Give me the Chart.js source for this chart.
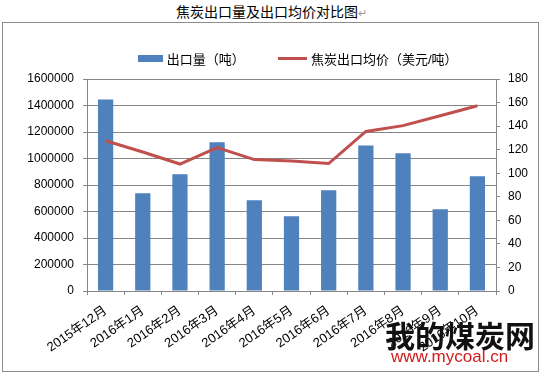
<!DOCTYPE html>
<html>
<head>
<meta charset="utf-8">
<script src="https://cdn.jsdelivr.net/npm/chart.js@4"></script>
<style>
  body { margin: 0; width: 543px; height: 374px; position: relative; background: #fff; overflow: hidden;
         font-family: "Liberation Sans", "Noto Sans CJK SC", sans-serif; }
  #box { position: absolute; left: 2px; top: 22px; width: 535px; height: 348px; border: 1px solid #8c8c8c; }
  #title { position: absolute; left: 0; width: 543px; top: 1px; text-align: center; font-size: 14px; color: #000; }
  #title span { color: #999; font-size: 11px; }
  #legend { position: absolute; top: 49px; left: 138px; font-size: 13px; color: #000; white-space: nowrap; }
  #legend .sw { display: inline-block; vertical-align: middle; }
  #wrap { position: absolute; left: 0; top: 0; width: 543px; height: 374px; }
  #mark1 { position: absolute; left: 385px; top: 312px; font-size: 30px; color: #111; font-family: "Noto Sans CJK SC", sans-serif; font-weight: bold; }
  #mark2 { position: absolute; left: 391px; top: 347px; font-size: 17px; color: #d21a1a; font-family: "Liberation Sans", sans-serif; }
</style>
</head>
<body>
<div id="box"></div>
<div id="title">焦炭出口量及出口均价对比图<span>↵</span></div>
<div id="wrap"><canvas id="myChart"></canvas></div>
<div id="legend">
  <span class="sw" style="width:25px;height:7px;background:#4F81BD;"></span>
  <span style="vertical-align:middle;">出口量（吨）</span>
  <span class="sw" style="width:29px;height:3px;background:#C0504D;margin-left:30px;"></span>
  <span style="vertical-align:middle;">焦炭出口均价（美元/吨）</span>
</div>
<div id="mark1">我的煤炭网</div>
<div id="mark2">www.mycoal.cn</div>
<script>
const months = ["2015年12月", "2016年1月", "2016年2月", "2016年3月", "2016年4月", "2016年5月",
                "2016年6月", "2016年7月", "2016年8月", "2016年9月", "2016年10月"];
const exportVolume = [1446000, 738000, 881000, 1122000, 685000, 565000, 760000, 1099000, 1039000, 617000, 866000];
const avgPrice = [127.6, 118, 107.8, 121.7, 111.6, 110.4, 108.2, 135.5, 140.4, 148.8, 157.3];
const volumeTicks = { min: 0, max: 1600000, step: 200000 };
const priceTicks = { min: 0, max: 180, step: 20 };

const gridColor = "#868686";
const fontFamily = "'Liberation Sans', 'Noto Sans CJK SC', sans-serif";

Chart.defaults.font.family = fontFamily;
Chart.defaults.font.size = 12;
Chart.defaults.color = "#000";

let ctx = document.getElementById("myChart").getContext('2d');

let chart = new Chart(ctx, {
  data: {
    labels: months,
    datasets: [{
      type: "line",
      label: "焦炭出口均价（美元/吨）",
      data: avgPrice,
      yAxisID: "y1",
      borderColor: "#C0504D",
      borderWidth: 3,
      pointRadius: 0,
      tension: 0,
      order: 0
    }, {
      type: "bar",
      label: "出口量（吨）",
      data: exportVolume,
      yAxisID: "y",
      backgroundColor: "#4F81BD",
      categoryPercentage: 1,
      barPercentage: 0.41,
      order: 1
    }]
  },
  options: {
    responsive: true,
    maintainAspectRatio: false,
    animation: false,
    layout: { padding: { left: 3, right: 0, top: 79, bottom: 3 } },
    plugins: {
      legend: { display: false },
      title: { display: false },
      tooltip: { enabled: false }
    },
    scales: {
      x: {
        offset: true,
        grid: { offset: true, drawOnChartArea: false, drawTicks: true, tickLength: 4, color: gridColor },
        border: { color: gridColor },
        ticks: { minRotation: 35, maxRotation: 35, autoSkip: false, padding: 8, font: { size: 13 } },
        afterFit: (axis) => { axis.height = 80; }
      },
      y: {
        position: "left",
        min: volumeTicks.min,
        max: volumeTicks.max,
        ticks: { stepSize: volumeTicks.step, padding: 9, callback: (v) => String(v) },
        grid: { color: gridColor, tickLength: 4 },
        border: { color: gridColor },
        afterFit: (axis) => { axis.width = 84; }
      },
      y1: {
        position: "right",
        min: priceTicks.min,
        max: priceTicks.max,
        ticks: { stepSize: priceTicks.step, padding: 8, callback: (v) => String(v) },
        grid: { drawOnChartArea: false, tickLength: 4, color: gridColor },
        border: { color: gridColor },
        afterFit: (axis) => { axis.width = 47; }
      }
    }
  }
});
</script>
</body>
</html>
